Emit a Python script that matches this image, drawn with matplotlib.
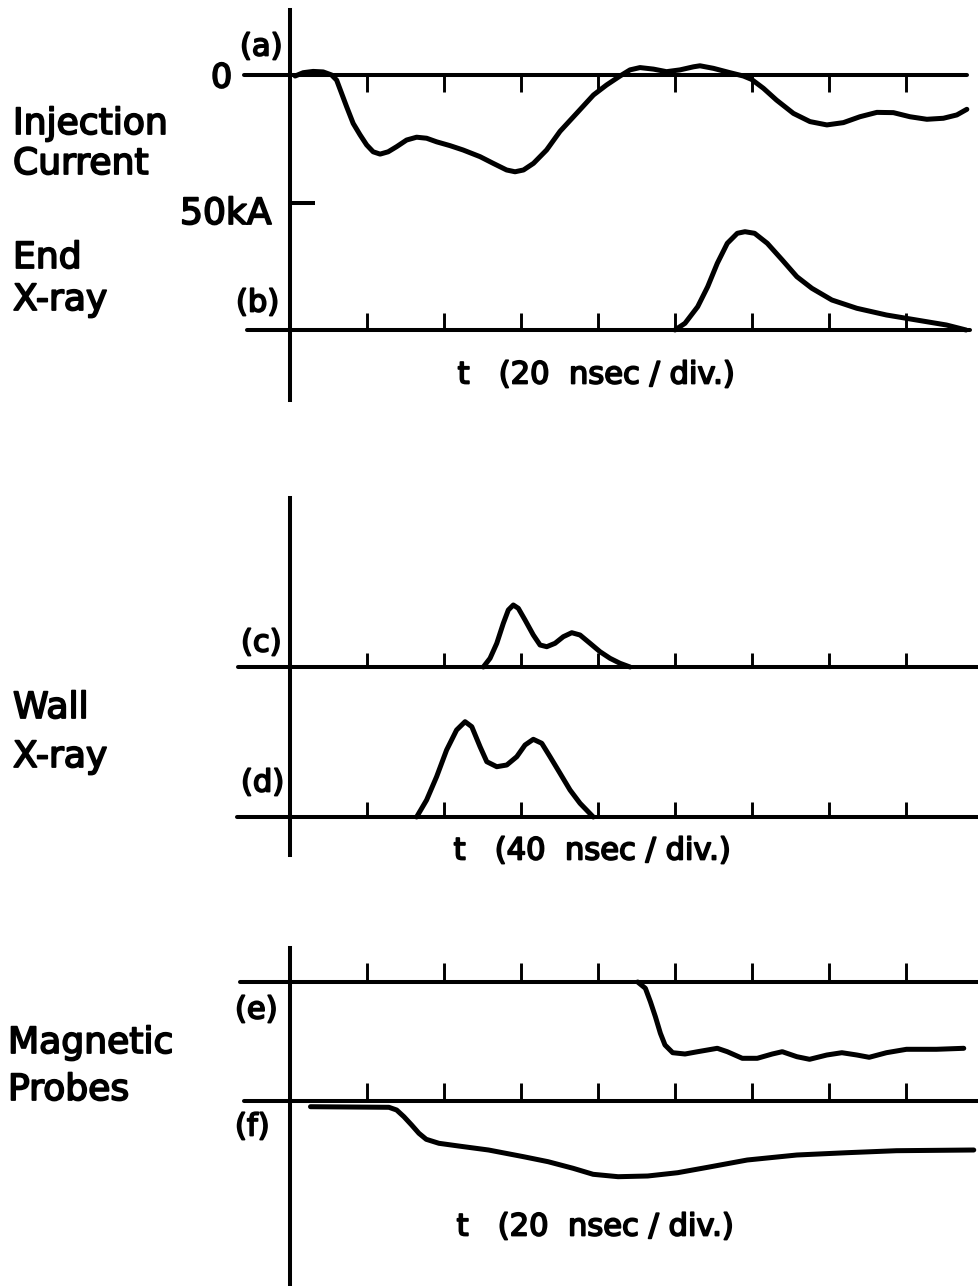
import matplotlib
matplotlib.use("Agg")
import matplotlib.pyplot as plt
import matplotlib.patheffects as pe

# ---------------- data ----------------
# (a) injection current, time in ns (20 ns/div), current in kA (negative = down)
a_t = [1.2, 3.3, 5.9, 8.5, 10.7, 12.0, 13.3, 14.6, 16.3, 18.1, 19.8, 21.5, 23.3, 25.4,
       27.6, 30.2, 32.8, 35.4, 38.0, 41.5, 44.9, 49.3, 52.7, 56.2, 58.4, 60.6, 63.2,
       66.6, 70.1, 74.4, 78.8, 82.2, 85.7, 88.3, 90.9, 94.4, 97.8, 101.3, 104.8, 106.5,
       110.0, 114.3, 117.8, 119.9, 123.0, 126.4, 130.8, 135.1, 139.5, 143.8, 148.1,
       152.5, 156.8, 161.1, 165.5, 169.8, 173.3, 175.9]
a_i = [-0.4, 0.9, 1.4, 1.2, 0.0, -2.0, -7.2, -12.4, -18.9, -23.4, -27.3, -30.0, -30.9,
       -30.0, -28.0, -25.4, -24.3, -24.7, -26.1, -27.6, -29.3, -31.9, -34.5, -37.1, -37.8,
       -37.1, -34.5, -29.3, -22.0, -15.0, -7.8, -3.9, -0.4, 2.0, 2.9, 2.3, 1.3, 2.0, 3.2,
       3.6, 2.6, 0.9, -0.4, -1.7, -5.2, -9.8, -15.0, -18.2, -19.5, -18.6, -16.3, -14.6,
       -14.7, -16.3, -17.3, -16.9, -15.6, -13.4]
# (b) end X-ray, 20 ns/div, arbitrary units
b_t = [100.0, 102.6, 105.9, 108.5, 111.0, 113.6, 116.2, 118.2, 120.7, 124.0, 127.9,
       131.7, 135.6, 140.8, 147.3, 155.0, 162.8, 170.6, 175.7]
b_v = [0.0, 0.67, 2.33, 4.33, 6.67, 8.67, 9.67, 9.83, 9.67, 8.67, 7.0, 5.33, 4.17, 3.0,
       2.17, 1.5, 1.0, 0.5, 0.0]
# (c) wall X-ray, 40 ns/div, arbitrary units
c_t = [100.3, 103.8, 107.3, 110.7, 113.3, 115.9, 118.5, 122.0, 126.3, 129.8, 133.3,
       137.6, 141.9, 146.3, 150.6, 155.8, 161.0, 166.2, 171.4, 176.6]
c_v = [0.0, 0.87, 2.37, 4.37, 5.7, 6.2, 5.87, 4.7, 3.2, 2.2, 2.03, 2.37, 3.03, 3.43,
       3.2, 2.37, 1.53, 0.87, 0.37, 0.0]
# (d) wall X-ray, 40 ns/div, arbitrary units
d_t = [65.6, 70.8, 76.0, 81.2, 86.4, 90.8, 94.3, 98.6, 102.1, 107.3, 112.5, 117.7,
       122.0, 126.3, 130.7, 135.0, 140.2, 145.4, 150.6, 157.5]
d_v = [0.0, 1.7, 4.03, 6.7, 8.7, 9.53, 9.03, 7.03, 5.53, 5.03, 5.2, 6.03, 7.2, 7.77,
       7.37, 6.03, 4.37, 2.7, 1.37, 0.0]
# (e) magnetic probe, 20 ns/div, arbitrary units
e_t = [90.3, 92.3, 93.6, 94.9, 96.2, 97.4, 99.4, 102.6, 105.9, 111.0, 113.6, 117.5,
       121.4, 125.3, 127.9, 131.7, 135.0, 139.5, 143.4, 147.3, 150.5, 155.0, 160.2,
       168.0, 175.1]
e_v = [0.0, -0.63, -1.97, -3.47, -5.13, -6.3, -7.07, -7.2, -6.97, -6.63, -6.97, -7.63,
       -7.63, -7.2, -6.97, -7.47, -7.73, -7.3, -7.07, -7.3, -7.53, -7.07, -6.73, -6.73,
       -6.63]
# (f) magnetic probe, 20 ns/div, arbitrary units
f_t = [5.2, 25.6, 27.6, 29.5, 31.5, 33.4, 35.3, 38.6, 43.7, 51.5, 60.6, 67.0, 73.5,
       78.7, 85.2, 92.9, 100.7, 108.5, 118.8, 131.7, 144.7, 157.6, 177.7]
f_v = [-0.57, -0.63, -0.9, -1.57, -2.4, -3.23, -3.83, -4.23, -4.5, -4.9, -5.57, -6.07,
       -6.73, -7.33, -7.57, -7.5, -7.17, -6.63, -5.9, -5.4, -5.17, -4.97, -4.9]

tick_divs = [1, 2, 3, 4, 5, 6, 7, 8]
scale_label = "50kA"
scale_value = -50.0
time_labels = ["t   (20  nsec / div.)", "t   (40  nsec / div.)", "t   (20  nsec / div.)"]

# ---------------- layout ----------------
W, H = 979, 1286
X0, DIV = 290.5, 76.9          # pixel of t=0 and pixels per division
fig = plt.figure(figsize=(W / 100, H / 100), dpi=100)
fig.patch.set_facecolor("white")

base = fig.add_axes([0, 0, 1, 1])
base.set_xlim(0, W)
base.set_ylim(H, 0)
base.set_axis_off()

LW_TRACE, LW_BASE, LW_TICK = 3.6, 2.9, 2.1
FONT = "DejaVu Sans"
stroke = [pe.withStroke(linewidth=1.3, foreground="black")]


def trace_axes(ns_per_div, base_px, px_per_unit):
    ax = fig.add_axes([0, 0, 1, 1], facecolor="none")
    ax.set_axis_off()
    ax.set_xlim(-X0 / DIV * ns_per_div, (W - X0) / DIV * ns_per_div)
    ax.set_ylim(-(H - base_px) / px_per_unit, base_px / px_per_unit)
    return ax


def baseline(ax, ns_per_div, d0, d1, tick_px, px_per_unit, up=True):
    ax.plot([d0 * ns_per_div, d1 * ns_per_div], [0, 0], color="black",
            lw=LW_BASE, solid_capstyle="round")
    ln = tick_px / px_per_unit * (1 if up else -1)
    ax.vlines([k * ns_per_div for k in tick_divs], 0, ln, color="black", lw=LW_TICK)


def trace(ax, t, v):
    ax.plot(t, v, color="black", lw=LW_TRACE, solid_joinstyle="round",
            solid_capstyle="round")


# vertical axes
for y0, y1 in [(10, 400), (498, 855), (948, 1286)]:
    base.plot([X0, X0], [y0, y1], color="black", lw=LW_BASE)

# (a)
ax_a = trace_axes(20, 75, 128 / 50)
baseline(ax_a, 20, -0.6, 8.8, 17, 128 / 50, up=False)
ax_a.hlines(scale_value, 0, 6.4, color="black", lw=LW_BASE)
trace(ax_a, a_t, a_i)

# (b)
ax_b = trace_axes(20, 330, 10)
baseline(ax_b, 20, -0.57, 8.84, 17, 10)
trace(ax_b, b_t, b_v)

# (c)
ax_c = trace_axes(40, 667, 10)
baseline(ax_c, 40, -0.68, 8.95, 14, 10)
trace(ax_c, c_t, c_v)

# (d)
ax_d = trace_axes(40, 817, 10)
baseline(ax_d, 40, -0.70, 8.95, 15, 10)
trace(ax_d, d_t, d_v)

# (e)
ax_e = trace_axes(20, 982, 10)
baseline(ax_e, 20, -0.66, 8.95, 19, 10)
trace(ax_e, e_t, e_v)

# (f)
ax_f = trace_axes(20, 1101, 10)
baseline(ax_f, 20, -0.60, 8.95, 18, 10)
trace(ax_f, f_t, f_v)

# ---------------- text ----------------
def label(x, y, s, size, ha="left"):
    base.text(x, y, s, fontsize=size, family=FONT, ha=ha, va="center",
              color="black", path_effects=stroke)

big = 26
label(13, 124, "Injection", big)
label(13, 164, "Current", big)
label(13, 258, "End", big)
label(13, 300, "X-ray", big)
label(13, 708, "Wall", big)
label(13, 757, "X-ray", big)
label(8, 1043, "Magnetic", big)
label(8, 1090, "Probes", big)

label(211, 78, "0", 24)
label(240, 47, "(a)", 22)
label(180, 214, scale_label, 26)
label(236, 303, "(b)", 22)
label(241, 643, "(c)", 22)
label(241, 783, "(d)", 22)
label(235, 1010, "(e)", 22)
label(235, 1127, "(f)", 22)

label(596, 375, time_labels[0], 22, ha="center")
label(592, 851, time_labels[1], 22, ha="center")
label(595, 1227, time_labels[2], 22, ha="center")

fig.savefig("out.png", dpi=100, facecolor="white")
